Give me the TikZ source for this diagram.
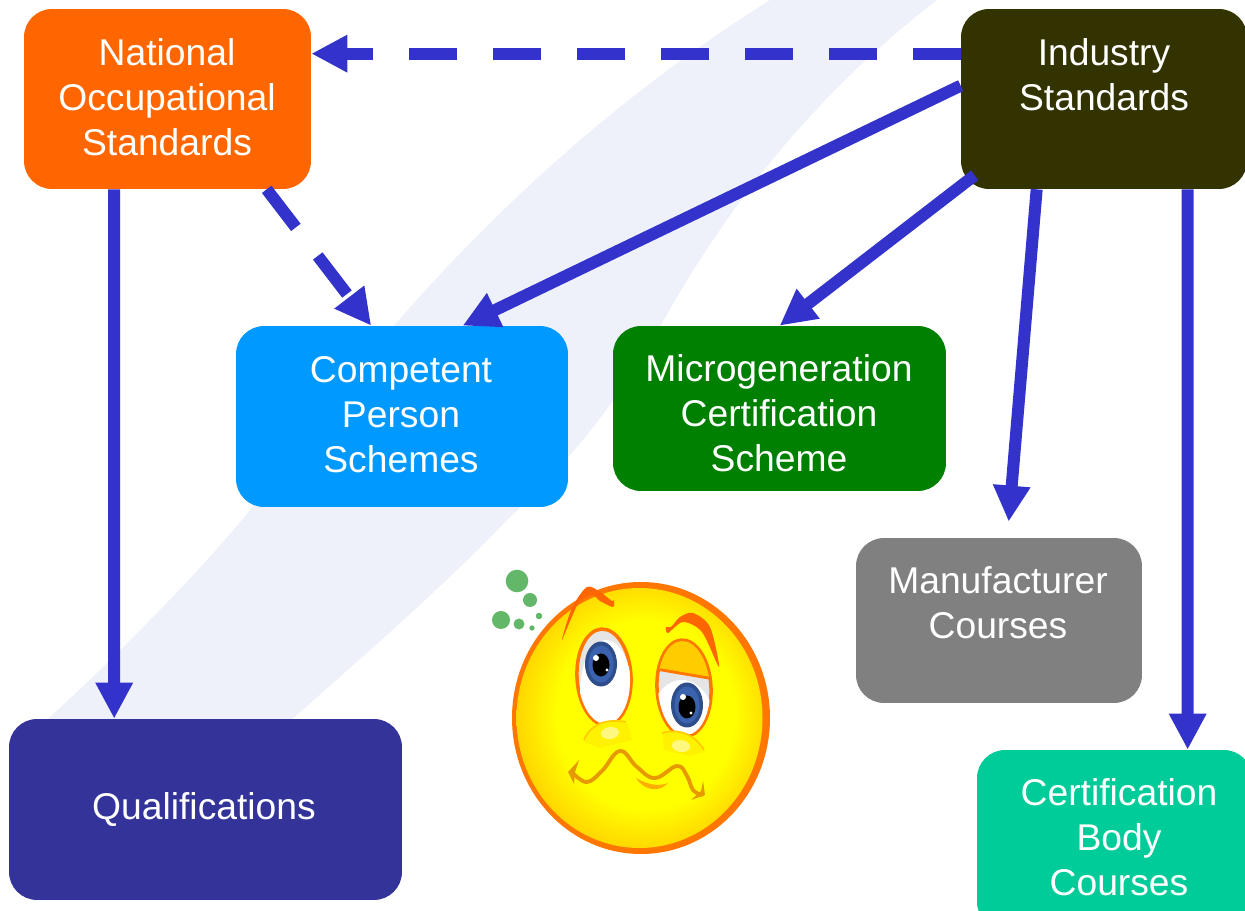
\documentclass[tikz,border=0pt]{standalone}
\usepackage{fontspec}
\setmainfont{Liberation Sans}
\usetikzlibrary{arrows.meta,calc}

\definecolor{arrowblue}{HTML}{3333CC}
\definecolor{swooshblue}{HTML}{EEF1FA}
\definecolor{nosorange}{HTML}{FF6600}
\definecolor{indolive}{HTML}{333300}
\definecolor{cpsblue}{HTML}{0099FF}
\definecolor{mcsgreen}{HTML}{008000}
\definecolor{mangray}{HTML}{808080}
\definecolor{qualblue}{HTML}{333399}
\definecolor{certgreen}{HTML}{00CC99}
\definecolor{rimorange}{HTML}{FF7700}
\definecolor{facegold}{HTML}{FFCC00}
\definecolor{mouthgold}{HTML}{E69A00}
\definecolor{irisblue}{HTML}{3A62AE}
\definecolor{dotgreen}{HTML}{62B868}
\pgfdeclareradialshading{facegrad}{\pgfpoint{2bp}{1bp}}{color(0bp)=(yellow); color(18bp)=(yellow); color(28bp)=(facegold); color(50bp)=(facegold)}

\begin{document}
\begin{tikzpicture}[x=0.02cm, y=-0.02cm,
    stdbox/.style={rectangle, rounded corners=0.56cm, inner sep=0pt},
    boxtext/.style={text=white, align=center, inner sep=0pt, font=\fontsize{21.2}{25.6}\selectfont},
    flow/.style={arrowblue, line width=6.83pt, -{Triangle[length=20.5pt,width=20pt]}},
    dashflow/.style={flow, dash pattern=on 27.3pt off 20.5pt},
    dot/.style={fill=dotgreen}]
    \useasboundingbox (0,0) rectangle (1245,911);
    \clip (0,0) rectangle (1245,911);

    % Background swoosh
    \fill[swooshblue] (30,735) .. controls (120,655) and (210,560) .. (250,510)
        .. controls (340,385) and (500,170) .. (770,0) -- (937,0)
        .. controls (820,90) and (730,200) .. (660,327)
        .. controls (610,415) and (560,470) .. (510,517)
        .. controls (440,590) and (370,650) .. (280,730) -- cycle;

    % Boxes
    \node[stdbox, fill=nosorange, minimum width=5.74cm, minimum height=3.6cm] (nos) at (167.5,99) {};
    \node[stdbox, fill=indolive, minimum width=5.72cm, minimum height=3.6cm] (ind) at (1104,99) {};
    \node[stdbox, fill=cpsblue, minimum width=6.64cm, minimum height=3.62cm] (cps) at (402,416.5) {};
    \node[stdbox, fill=mcsgreen, minimum width=6.66cm, minimum height=3.3cm] (mcs) at (779.5,408.5) {};
    \node[stdbox, fill=mangray, minimum width=5.72cm, minimum height=3.3cm] (man) at (999,620.5) {};
    \node[stdbox, fill=qualblue, minimum width=7.86cm, minimum height=3.62cm] (qual) at (205.5,809.5) {};
    \node[stdbox, fill=certgreen, minimum width=5.5cm, minimum height=3.6cm] (cert) at (1114.5,840) {};

    % Box texts
    \node[boxtext] (nostext) at (167,97) {National\\Occupational\\Standards};
    \node[boxtext] (indtext) at (1104,75) {Industry\\Standards};
    \node[boxtext] (cpstext) at (401,415) {Competent\\Person\\Schemes};
    \node[boxtext] (mcstext) at (779,413) {Microgeneration\\Certification\\Scheme};
    \node[boxtext] (mantext) at (998,602.5) {Manufacturer\\Courses};
    \node[boxtext] (qualtext) at (204,810) {Qualifications};
    \node[boxtext] (certtext) at (1119,837) {Certification\\Body\\Courses};

    % Arrows
    \draw[dashflow] ($(ind.north west)+(0,45)$) -- ($(nos.north east)+(0,45)$);
    \draw[dashflow] ($(nos.south west)+(243,0)$) -- ($(cps.north west)+(135.5,0)$);
    \draw[flow] ($(nos.south west)+(90.5,0)$) -- ($(qual.north west)+(105.5,0)$);
    \draw[flow] ($(ind.north west)+(0,77)$) -- ($(cps.north west)+(227,0)$);
    \draw[flow] ($(ind.south west)+(14,-14)$) -- ($(mcs.north west)+(167,0)$);
    \draw[flow] ($(ind.south west)+(76,0)$) -- ($(man.north west)+(153,-16)$);
    \draw[flow] ($(ind.south west)+(227,0)$) -- ($(cert.north west)+(211,0)$);

    % Thought dots
    \fill[dot] (517,581) circle (11.3);
    \fill[dot] (530,600) circle (7);
    \fill[dot] (501,620) circle (9);
    \fill[dot] (519,624) circle (5.5);
    \fill[dot] (539,616) circle (3.3);
    \fill[dot] (532,628) circle (2.7);

    % Face
    \fill[rimorange] (641,718) ellipse [x radius=129, y radius=136];
    \shade[shading=facegrad] (639.5,718) ellipse [x radius=123, y radius=130];

    % Left eye
    \draw[rimorange, line width=2pt, fill=black!10] (604,677) ellipse [x radius=27, y radius=48, rotate=3];
    \begin{scope}
        \clip (604,677) ellipse [x radius=26, y radius=47, rotate=3];
        \fill[white] (606,692) ellipse [x radius=26, y radius=52];
    \end{scope}
    \fill[irisblue!80!black] (601,664) ellipse [x radius=16, y radius=22.5];
    \fill[irisblue] (601,664) ellipse [x radius=12.5, y radius=18.5];
    \fill[black] (601,665) ellipse [x radius=8.5, y radius=11.5];
    \fill[white] (596,658) circle (3);
    \fill[white] (607,670) circle (1.6);

    % Right eye
    \draw[rimorange, line width=2pt, fill=black!10] (684,688) ellipse [x radius=27, y radius=48, rotate=3];
    \begin{scope}
        \clip (684,688) ellipse [x radius=26, y radius=47, rotate=3];
        \fill[white] (682,726) ellipse [x radius=33, y radius=46];
        \fill[facegold] (650,630) -- (720,630) -- (720,680) -- (650,668) -- cycle;
        \draw[rimorange, line width=1.6pt] (650,668) -- (720,680);
    \end{scope}
    \fill[irisblue!80!black] (687,705) ellipse [x radius=16, y radius=22.5];
    \fill[irisblue] (687,705) ellipse [x radius=12.5, y radius=18.5];
    \fill[black] (687,707) ellipse [x radius=8.5, y radius=11.5];
    \fill[white] (683,697) circle (3);
    \fill[white] (691,713) circle (1.6);

    % Nose
    \fill[yellow] (584,742) .. controls (590,725) and (605,718) .. (627,722) -- (632,740) -- (600,748) -- cycle;
    \draw[facegold, line width=1pt] (584,740) .. controls (590,725) and (605,718) .. (626,722);
    \fill[yellow] (662,733) .. controls (680,728) and (695,735) .. (705,752) -- (690,756) -- (664,750) -- cycle;
    \draw[facegold, line width=1pt] (662,733) .. controls (680,728) and (695,735) .. (704,750);
    \fill[yellow!50!white] (610,733) ellipse [x radius=9, y radius=6, rotate=8];
    \fill[yellow!50!white] (681,746) ellipse [x radius=9, y radius=6, rotate=-8];

    % Mouth
    \draw[mouthgold, line width=2.2pt, line cap=round] plot[smooth, tension=0.7] coordinates {(574,774) (587,782) (602,771) (620,751) (637,767) (655,778) (677,766) (687,776) (693,790) (702,795)};
    \fill[mouthgold] (579,760) -- (568,772) -- (574,784) -- (575,772) -- cycle;
    \fill[mouthgold] (703,781) -- (705,795) -- (691,800) -- (701,791) -- cycle;
    \fill[facegold!60!orange] (636,778) .. controls (650,786) and (660,786) .. (668,783) .. controls (660,792) and (645,792) .. (636,778) -- cycle;

    % Eyebrows
    \fill[nosorange] plot[smooth cycle, tension=0.5] coordinates {(562,640) (572,608) (587,587) (600,592) (612,601) (614,600) (613,607) (600,601) (592,595) (578,604)};
    \fill[nosorange] plot[smooth cycle, tension=0.5] coordinates {(666,627) (668,633) (683,622) (702,632) (719,667) (710,627) (693,613) (680,617) (671,627)};
\end{tikzpicture}
\end{document}
